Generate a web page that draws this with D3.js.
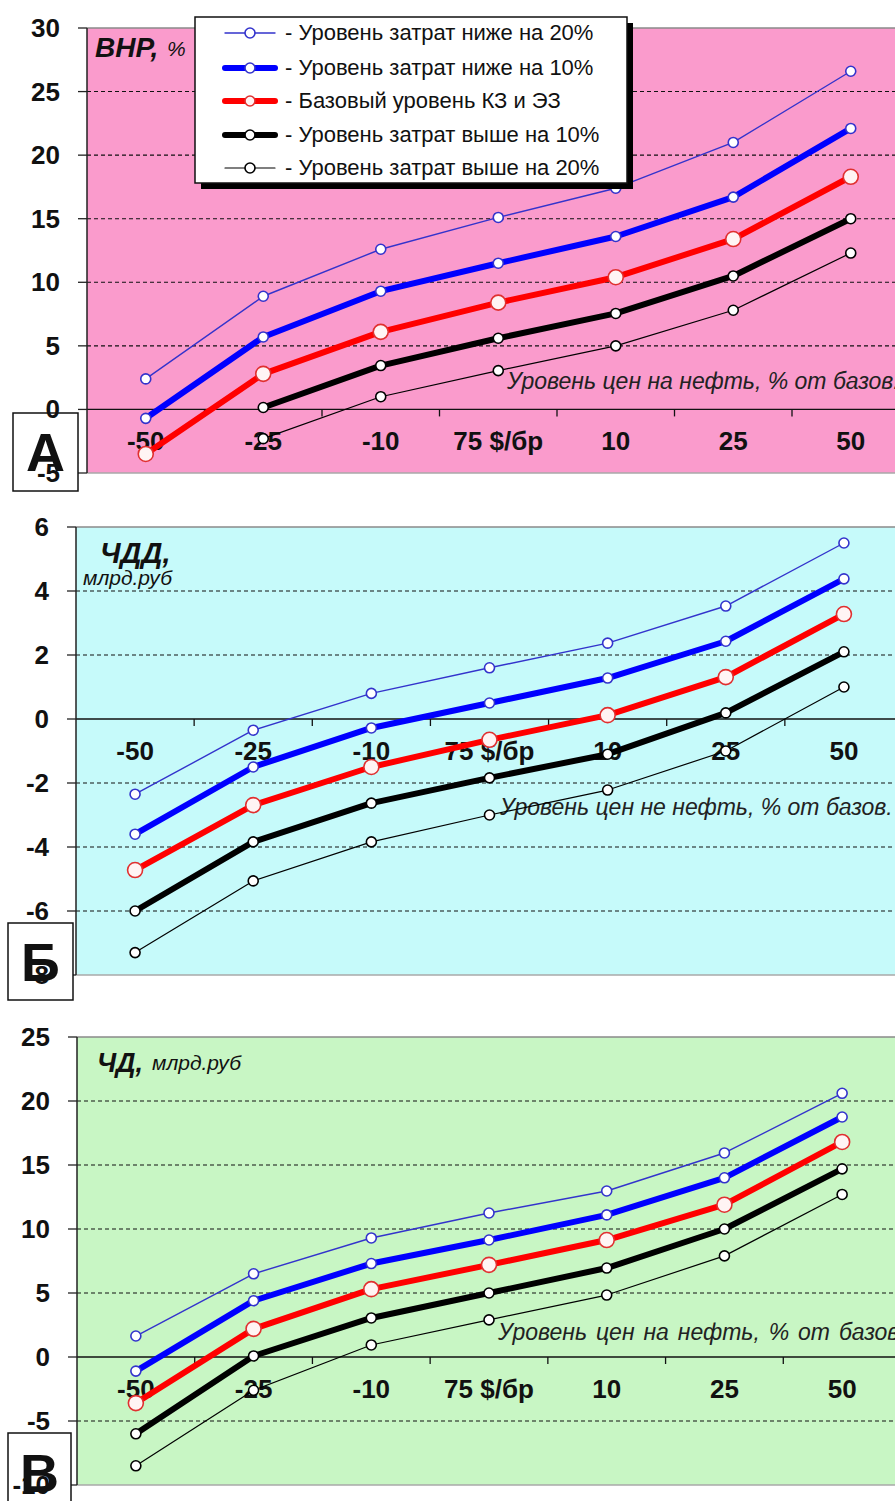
<!DOCTYPE html>
<html>
<head>
<meta charset="utf-8">
<script src="https://cdn.jsdelivr.net/npm/d3@7"></script>
<style>
  body { margin: 0; background: #fff; }
  svg { display: block; font-family: "Liberation Sans", Arial, sans-serif; }
</style>
</head>
<body>
<svg id="chart" width="895" height="1501"></svg>
<script>
// Oil price scenarios, % of the base price (base = 75 $/бр)
const categories = ["-50", "-25", "-10", "75 $/бр", "10", "25", "50"];

const seriesNames = [
  "- Уровень затрат ниже на 20%",
  "- Уровень затрат ниже на 10%",
  "- Базовый уровень КЗ и ЭЗ",
  "- Уровень затрат выше на 10%",
  "- Уровень затрат выше на 20%"
];

// ВНР, %
const vnrLow20  = [2.4, 8.9, 12.6, 15.1, 17.4, 21.0, 26.6];
const vnrLow10  = [-0.7, 5.7, 9.3, 11.5, 13.6, 16.7, 22.1];
const vnrBase   = [-3.5, 2.8, 6.1, 8.4, 10.4, 13.4, 18.3];
const vnrHigh10 = [null, 0.15, 3.45, 5.6, 7.55, 10.5, 15.0];
const vnrHigh20 = [null, -2.3, 1.0, 3.05, 5.0, 7.8, 12.3];
const vnrTicks  = [-5, 0, 5, 10, 15, 20, 25, 30];

// ЧДД, млрд.руб
const chddLow20  = [-2.35, -0.35, 0.8, 1.6, 2.37, 3.53, 5.5];
const chddLow10  = [-3.6, -1.5, -0.28, 0.5, 1.28, 2.43, 4.38];
const chddBase   = [-4.72, -2.69, -1.5, -0.65, 0.12, 1.31, 3.28];
const chddHigh10 = [-6.0, -3.84, -2.63, -1.84, -1.1, 0.19, 2.1];
const chddHigh20 = [-7.3, -5.06, -3.84, -3.0, -2.22, -1.0, 1.0];
const chddTicks  = [-8, -6, -4, -2, 0, 2, 4, 6];

// ЧД, млрд.руб
const chdLow20  = [1.64, 6.5, 9.3, 11.25, 12.97, 15.94, 20.6];
const chdLow10  = [-1.1, 4.4, 7.3, 9.14, 11.1, 14.0, 18.75];
const chdBase   = [-3.6, 2.2, 5.3, 7.2, 9.14, 11.9, 16.8];
const chdHigh10 = [-6.0, 0.08, 3.05, 5.0, 6.95, 10.0, 14.7];
const chdHigh20 = [-8.5, -2.6, 0.94, 2.9, 4.84, 7.9, 12.7];
const chdTicks  = [-10, -5, 0, 5, 10, 15, 20, 25];

// Line / marker styles for the five cost scenarios
const styles = [
  { stroke: "#3333cc", width: 1.4, r: 5,   mStroke: "#3333cc", mFill: "#ffffff" },
  { stroke: "#0000ff", width: 6,   r: 5,   mStroke: "#3333cc", mFill: "#ffffff" },
  { stroke: "#ff0000", width: 6,   r: 7.5, mStroke: "#e03030", mFill: "#fff4f4" },
  { stroke: "#000000", width: 6,   r: 5,   mStroke: "#000000", mFill: "#ffffff" },
  { stroke: "#000000", width: 1.2, r: 5,   mStroke: "#000000", mFill: "#ffffff" }
];

const panels = [
  {
    series: [vnrLow20, vnrLow10, vnrBase, vnrHigh10, vnrHigh20],
    ticks: vnrTicks, left: 87, right: 909.5, top: 28, bottom: 473,
    bg: "#fa9bcc", letter: "А", box: [13, 413, 65, 78],
    title: [{ t: "ВНР,", x: 95, y: 57, size: 28, weight: "bold" },
            { t: "%", x: 167, y: 56, size: 21, weight: "normal" }],
    note: "Уровень цен на нефть, % от базов.", noteX: 507, noteV: 2.2, noteSpacing: 0,
    legend: true
  },
  {
    series: [chddLow20, chddLow10, chddBase, chddHigh10, chddHigh20],
    ticks: chddTicks, left: 76, right: 903, top: 527, bottom: 975,
    bg: "#c6fafa", letter: "Б", box: [8, 923, 65, 77],
    title: [{ t: "ЧДД,", x: 100, y: 563, size: 29, weight: "bold" },
            { t: "млрд.руб", x: 83, y: 585, size: 21, weight: "normal" }],
    note: "Уровень цен не нефть, % от базов.", noteX: 500, noteV: -2.75, noteSpacing: 0,
    legend: false
  },
  {
    series: [chdLow20, chdLow10, chdBase, chdHigh10, chdHigh20],
    ticks: chdTicks, left: 77, right: 901, top: 1037, bottom: 1485,
    bg: "#c8f6c4", letter: "В", box: [8, 1433, 63, 80],
    title: [{ t: "ЧД,", x: 97, y: 1072, size: 27, weight: "bold" },
            { t: "млрд.руб", x: 152, y: 1070, size: 21, weight: "normal" }],
    note: "Уровень цен на нефть, % от базов.", noteX: 498, noteV: 1.95, noteSpacing: 2.5,
    legend: false
  }
];

const svg = d3.select("#chart");

panels.forEach((p) => {
  const g = svg.append("g");
  const x = d3.scaleBand().domain(categories).range([p.left, p.right]).padding(0);
  const cx = (c) => x(c) + x.bandwidth() / 2;
  const y = d3.scaleLinear().domain(d3.extent(p.ticks)).range([p.bottom, p.top]);

  // plot area
  g.append("rect")
    .attr("x", p.left).attr("y", p.top)
    .attr("width", p.right - p.left).attr("height", p.bottom - p.top)
    .attr("fill", p.bg);

  // dashed gridlines
  g.selectAll("line.grid")
    .data(p.ticks.filter(t => t !== 0 && t !== p.ticks[0] && t !== p.ticks[p.ticks.length - 1]))
    .join("line")
    .attr("x1", p.left).attr("x2", p.right)
    .attr("y1", d => y(d)).attr("y2", d => y(d))
    .attr("stroke", "#111").attr("stroke-width", 1.1)
    .attr("stroke-dasharray", "4,3");

  // plot area border (top / bottom)
  g.append("line").attr("x1", p.left).attr("x2", p.right)
    .attr("y1", p.top).attr("y2", p.top).attr("stroke", "#8a8a8a").attr("stroke-width", 1.5);
  g.append("line").attr("x1", p.left).attr("x2", p.right)
    .attr("y1", p.bottom).attr("y2", p.bottom).attr("stroke", "#a8a8a8").attr("stroke-width", 1.5);

  // category axis crossing at zero
  const y0 = y(0);
  g.append("line").attr("x1", p.left).attr("x2", p.right)
    .attr("y1", y0).attr("y2", y0).attr("stroke", "#111").attr("stroke-width", 1.3);
  g.selectAll("line.xtick")
    .data(categories.slice(1).concat(["end"]))
    .join("line")
    .attr("x1", d => d === "end" ? p.right : x(d))
    .attr("x2", d => d === "end" ? p.right : x(d))
    .attr("y1", y0).attr("y2", y0 + 7)
    .attr("stroke", "#111").attr("stroke-width", 1.3);

  // category labels
  g.selectAll("text.xlab")
    .data(categories)
    .join("text")
    .attr("x", d => cx(d)).attr("y", y0 + 41)
    .attr("text-anchor", "middle")
    .attr("font-size", 26).attr("font-weight", "bold").attr("fill", "#111")
    .text(d => d);

  // value axis
  g.append("line").attr("x1", p.left).attr("x2", p.left)
    .attr("y1", p.top).attr("y2", p.bottom).attr("stroke", "#222").attr("stroke-width", 1.5);
  g.selectAll("line.ytick")
    .data(p.ticks)
    .join("line")
    .attr("x1", p.left - 9).attr("x2", p.left)
    .attr("y1", d => y(d)).attr("y2", d => y(d))
    .attr("stroke", "#222").attr("stroke-width", 1.3);

  // axis note
  g.append("text")
    .attr("x", p.noteX).attr("y", y(p.noteV) + 8)
    .attr("font-size", 23).attr("font-style", "italic").attr("fill", "#222")
    .attr("word-spacing", p.noteSpacing)
    .text(p.note);

  // panel title
  p.title.forEach(t => {
    g.append("text")
      .attr("x", t.x).attr("y", t.y)
      .attr("font-size", t.size).attr("font-weight", t.weight)
      .attr("font-style", "italic").attr("fill", "#111")
      .text(t.t);
  });

  // series lines and markers
  const line = d3.line()
    .defined(d => d.v !== null)
    .x(d => cx(d.c)).y(d => y(d.v));

  p.series.forEach((vals, i) => {
    const st = styles[i];
    const pts = vals.map((v, k) => ({ c: categories[k], v }));
    g.append("path")
      .datum(pts)
      .attr("d", line)
      .attr("fill", "none")
      .attr("stroke", st.stroke).attr("stroke-width", st.width)
      .attr("stroke-linejoin", "round");
    g.selectAll(null)
      .data(pts.filter(d => d.v !== null))
      .join("circle")
      .attr("cx", d => cx(d.c)).attr("cy", d => y(d.v))
      .attr("r", st.r)
      .attr("fill", st.mFill).attr("stroke", st.mStroke).attr("stroke-width", 1.6);
  });

  // panel letter box
  const [bx, by, bw, bh] = p.box;
  g.append("rect").attr("x", bx).attr("y", by).attr("width", bw).attr("height", bh)
    .attr("fill", "#fff").attr("stroke", "#111").attr("stroke-width", 1.5);
  g.append("text")
    .attr("x", bx + bw / 2).attr("y", by + bh / 2 + 19)
    .attr("text-anchor", "middle")
    .attr("font-size", 54).attr("font-weight", "bold").attr("fill", "#111")
    .text(p.letter);

  // value labels
  g.selectAll("text.ylab")
    .data(p.ticks)
    .join("text")
    .attr("x", p.left - 27).attr("y", d => y(d) + 9)
    .attr("text-anchor", "end")
    .attr("font-size", 26).attr("font-weight", "bold").attr("fill", "#111")
    .text(d => d);

  // legend
  if (p.legend) {
    const lx = 195, ly = 17, lw = 432, lh = 166;
    g.append("rect").attr("x", lx + 6).attr("y", ly + 6).attr("width", lw).attr("height", lh)
      .attr("fill", "#000");
    g.append("rect").attr("x", lx).attr("y", ly).attr("width", lw).attr("height", lh)
      .attr("fill", "#fff").attr("stroke", "#111").attr("stroke-width", 1.5);
    const rows = [33, 68, 101, 135, 168];
    seriesNames.forEach((name, i) => {
      const st = styles[i];
      const ry = rows[i];
      g.append("line").attr("x1", 225).attr("x2", 275).attr("y1", ry).attr("y2", ry)
        .attr("stroke", st.stroke).attr("stroke-width", st.width).attr("stroke-linecap", "round");
      g.append("circle").attr("cx", 250).attr("cy", ry).attr("r", 5)
        .attr("fill", st.mFill).attr("stroke", st.mStroke).attr("stroke-width", 1.6);
      g.append("text").attr("x", 285).attr("y", ry + 7)
        .attr("font-size", 22).attr("fill", "#111")
        .text(name);
    });
  }
});
</script>
</body>
</html>
